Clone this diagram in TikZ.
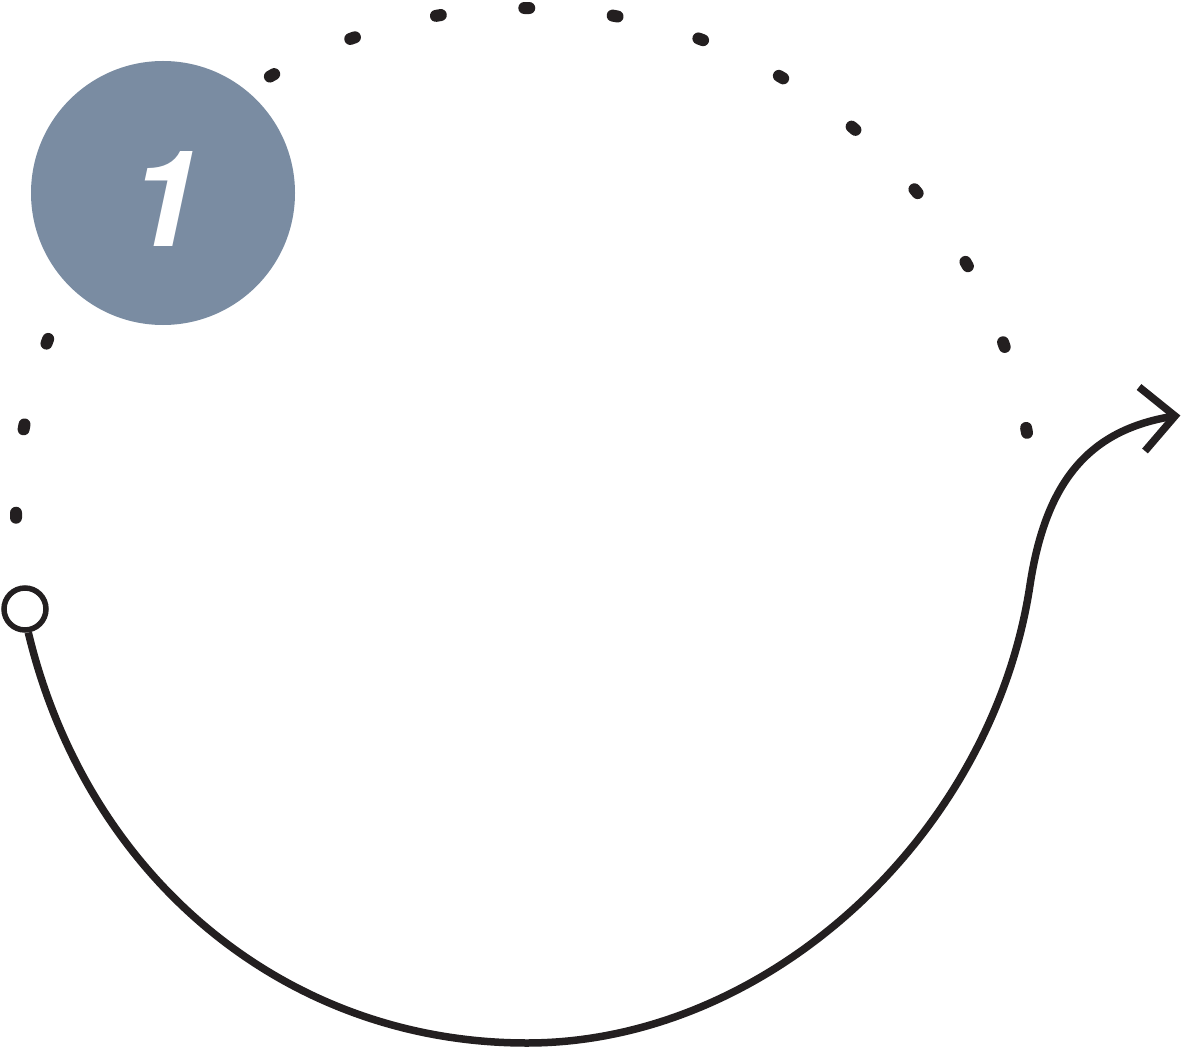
\documentclass[tikz,border=0pt]{standalone}
\usepackage{fontspec}
\newfontfamily\numfont{TeX Gyre Heros}
\definecolor{ink}{HTML}{231F20}
\definecolor{slate}{HTML}{7A8CA2}
\begin{document}
\begin{tikzpicture}[x=1pt,y=-1pt,
  dotmark/.style={draw=ink,line width=12pt,line cap=round},
  mainline/.style={draw=ink,line width=7.5pt},
  chev/.style={draw=ink,line width=7.5pt,line join=miter,line cap=butt},
  ring/.style={circle,draw=ink,line width=5.5pt,fill=white,minimum size=42pt,inner sep=0pt},
  badge/.style={circle,fill=slate,minimum size=264pt,inner sep=0pt},
  numtext/.style={text=white,inner sep=0pt,font=\numfont\bfseries\itshape\fontsize{134}{134}\selectfont}]
\useasboundingbox (0,0) rectangle (1182,1048);
% dotted arc
\foreach \a in {10,20,...,120,160,170,180}{
  \draw[dotmark] ([shift={(525,517)}]{-\a+0.2-0.28}:509) -- ([shift={(525,517)}]{-\a+0.2+0.28}:509);
}
% badge
\node[badge] (badge) at (163,193) {};
\node[numtext] (num) at (165,199) {1};
% start ring
\node[ring] (start) at (25,609) {};
% arrow
\coordinate (bottom) at (527,1043);
\coordinate (rise) at (1030,585);
\coordinate (tip) at (1175,416);
\coordinate (armA) at (1139,387);
\coordinate (armB) at (1145,451);
\draw[mainline] (start.-82) .. controls (87,878) and (286,1043) .. (bottom)
  .. controls (766,1043) and (992,837) .. (rise)
  .. controls (1046,480) and (1090,429) .. (tip);
\draw[chev] (armA) -- (tip) -- (armB);
\end{tikzpicture}
\end{document}
